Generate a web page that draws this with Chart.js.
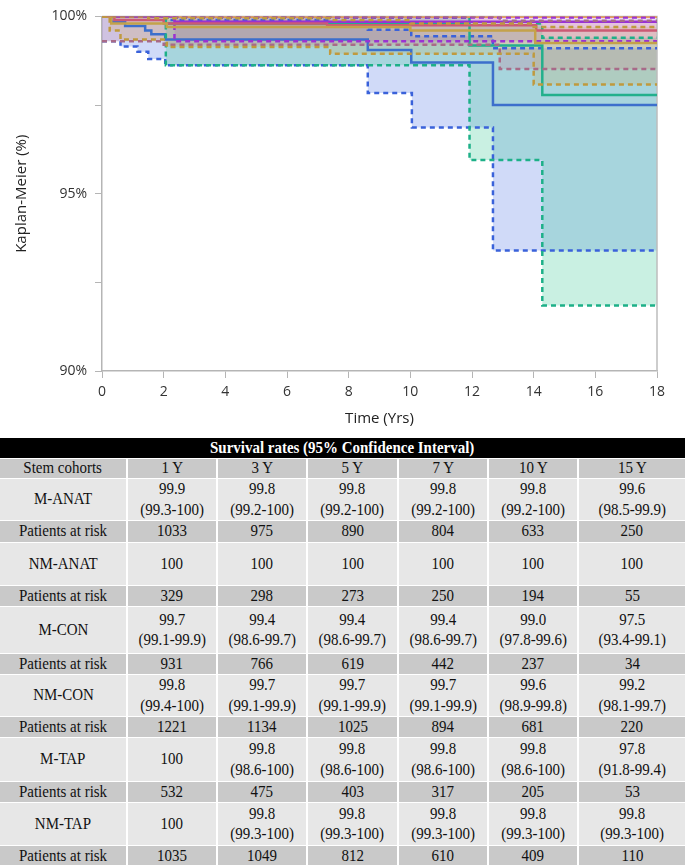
<!DOCTYPE html>
<html><head><meta charset="utf-8">
<script src="https://cdn.jsdelivr.net/npm/chart.js@4.4.1/dist/chart.umd.min.js"></script>
<style>
html,body{margin:0;padding:0;background:#fff;width:685px;height:865px;overflow:hidden}
#chartBox{position:absolute;left:0;top:0;width:685px;height:432px}
#tbl{position:absolute;left:0;top:438px;width:685px;display:grid;
 grid-template-columns:126px 88px 88px 89px 88px 88px 1fr;
 grid-template-rows:20px 19px 41px 21px 42px 20px 46px 20px 41px 20px 43px 20px 42px 20px;
 column-gap:2px;row-gap:1px;font-family:"Liberation Serif","Times New Roman",serif;font-size:17px;color:#111;background:#fff}
.c{display:flex;align-items:center;justify-content:center;text-align:center;line-height:20.5px;white-space:nowrap}
.c span{display:inline-block;transform:scaleX(0.88);transform-origin:center}
.hd{grid-column:1 / -1;background:#000;color:#fff;font-weight:bold}
.dk{background:#C9C9C9}
.lt{background:#E7E7E7}
</style></head>
<body>
<div id="chartBox"><canvas id="km"></canvas></div>
<div id="tbl"></div>
<script>
// ---------- plot data: [time (yrs), survival %] step points ----------
const mConEst  = [[0,100],[0.3,99.85],[0.75,99.73],[1.4,99.6],[1.6,99.5],[2.05,99.35],[8.62,99.05],[10.03,98.7],[12.68,97.5],[18,97.5]];
const mConLow  = [[0,99.3],[0.6,99.15],[1.15,99.0],[1.5,98.8],[2.05,98.62],[8.62,97.84],[10.05,96.87],[12.68,93.4],[18,93.4]];
const mConHigh = [[0,100],[2.05,99.9],[7.4,99.76],[8.62,99.62],[10.03,99.44],[12.68,99.1],[18,99.1]];

const mTapEst  = [[0,100],[2.07,99.8],[11.92,99.18],[14.28,97.78],[18,97.78]];
const mTapLow  = [[0,100],[2.07,98.62],[11.92,95.95],[14.28,91.85],[18,91.85]];
const mTapHigh = [[0,100],[2.07,99.97],[11.92,99.8],[14.28,99.4],[18,99.4]];

const nmConEst  = [[0,100],[0.3,99.8],[2.1,99.7],[10.0,99.6],[14.05,99.25],[18,99.25]];
const nmConLow  = [[0,100],[0.25,99.6],[0.6,99.35],[2.1,99.14],[7.4,98.95],[14.0,98.08],[18,98.08]];
const nmConHigh = [[0,100],[1.5,99.95],[7.4,99.9],[10.0,99.8],[14.0,99.7],[18,99.7]];

const mAnatEst  = [[0,100],[0.4,99.9],[2.0,99.8],[7.3,99.75],[14.08,99.6],[18,99.6]];
const mAnatLow  = [[0,99.3],[2.0,99.2],[12.9,98.52],[18,98.52]];
const mAnatHigh = [[0,100],[12.9,99.88],[18,99.88]];

const nmTapEst  = [[0,100],[2.35,99.85],[18,99.85]];
const nmTapLow  = [[0,100],[2.35,99.3],[18,99.3]];
const nmTapHigh = [[0,100],[2.35,99.97],[18,99.97]];

const nmAnatEst = [[0,100],[18,100]];

// ---------- table data ----------
const headerTitle = "Survival rates (95% Confidence Interval)";
const yearLabels = ["1 Y","3 Y","5 Y","7 Y","10 Y","15 Y"];
const cohortNames = ["M-ANAT","NM-ANAT","M-CON","NM-CON","M-TAP","NM-TAP"];
const rateMANAT  = ["99.9","99.8","99.8","99.8","99.8","99.6"];
const ciMANAT    = ["(99.3-100)","(99.2-100)","(99.2-100)","(99.2-100)","(99.2-100)","(98.5-99.9)"];
const riskMANAT  = ["1033","975","890","804","633","250"];
const rateNMANAT = ["100","100","100","100","100","100"];
const ciNMANAT   = ["","","","","",""];
const riskNMANAT = ["329","298","273","250","194","55"];
const rateMCON   = ["99.7","99.4","99.4","99.4","99.0","97.5"];
const ciMCON     = ["(99.1-99.9)","(98.6-99.7)","(98.6-99.7)","(98.6-99.7)","(97.8-99.6)","(93.4-99.1)"];
const riskMCON   = ["931","766","619","442","237","34"];
const rateNMCON  = ["99.8","99.7","99.7","99.7","99.6","99.2"];
const ciNMCON    = ["(99.4-100)","(99.1-99.9)","(99.1-99.9)","(99.1-99.9)","(98.9-99.8)","(98.1-99.7)"];
const riskNMCON  = ["1221","1134","1025","894","681","220"];
const rateMTAP   = ["100","99.8","99.8","99.8","99.8","97.8"];
const ciMTAP     = ["","(98.6-100)","(98.6-100)","(98.6-100)","(98.6-100)","(91.8-99.4)"];
const riskMTAP   = ["532","475","403","317","205","53"];
const rateNMTAP  = ["100","99.8","99.8","99.8","99.8","99.8"];
const ciNMTAP    = ["","(99.3-100)","(99.3-100)","(99.3-100)","(99.3-100)","(99.3-100)"];
const riskNMTAP  = ["1035","1049","812","610","409","110"];

// ---------- build table ----------
(function(){
  const t = document.getElementById('tbl');
  const add = (txt, cls) => { const d = document.createElement('div'); d.className = 'c ' + cls; d.innerHTML = '<span>' + txt + '</span>'; t.appendChild(d); };
  add(headerTitle, 'hd');
  add('Stem cohorts', 'dk'); yearLabels.forEach(y => add(y, 'dk'));
  const rows = [[rateMANAT,ciMANAT,riskMANAT],[rateNMANAT,ciNMANAT,riskNMANAT],[rateMCON,ciMCON,riskMCON],
                [rateNMCON,ciNMCON,riskNMCON],[rateMTAP,ciMTAP,riskMTAP],[rateNMTAP,ciNMTAP,riskNMTAP]];
  rows.forEach((r, i) => {
    add(cohortNames[i], 'lt');
    r[0].forEach((v, j) => add(r[1][j] ? v + '<br>' + r[1][j] : v, 'lt'));
    add('Patients at risk', 'dk');
    r[2].forEach(v => add(v, 'dk'));
  });
})();

// ---------- build chart ----------
const P = pts => pts.map(([x, y]) => ({x, y}));
const styles = [
  {est: nmConEst,  low: nmConLow,  high: nmConHigh,  line: '#C4A24A', ci: '#C09A3E', fill: 'rgba(205,175,90,0.22)'},
  {est: mAnatEst,  low: mAnatLow,  high: mAnatHigh,  line: '#CC5A74', ci: '#A86A88', fill: 'rgba(205,110,140,0.22)'},
  {est: nmTapEst,  low: nmTapLow,  high: nmTapHigh,  line: '#9A32D2', ci: '#9A32D2', fill: 'rgba(150,70,205,0.2)'},
  {est: nmAnatEst, line: '#E8862C'},
  {est: mTapEst,   low: mTapLow,   high: mTapHigh,   line: '#22B08C', ci: '#1DB088', fill: 'rgba(60,200,150,0.28)'},
  {est: mConEst,   low: mConLow,   high: mConHigh,   line: '#3C6FCC', ci: '#3A62DA', fill: 'rgba(120,150,235,0.35)'}
];
const datasets = [];
styles.forEach(s => {
  if (s.low) {
    const li = datasets.length;
    datasets.push({data: P(s.low), borderColor: s.ci, borderWidth: 2.5, borderDash: [5, 4], fill: false, stepped: 'before', pointRadius: 0});
    datasets.push({data: P(s.high), borderColor: s.ci, borderWidth: 2.5, borderDash: [5, 4], fill: li, backgroundColor: s.fill, stepped: 'before', pointRadius: 0});
  }
  datasets.push({data: P(s.est), borderColor: s.line, borderWidth: 2.5, fill: false, stepped: 'before', pointRadius: 0});
});

const frame = {id: 'frame', beforeDatasetsDraw(c) {
  const {ctx, chartArea: a} = c; ctx.save(); ctx.strokeStyle = '#BDBDBD'; ctx.lineWidth = 1.5;
  ctx.beginPath(); ctx.moveTo(a.left, a.top); ctx.lineTo(a.right, a.top); ctx.lineTo(a.right, a.bottom); ctx.stroke(); ctx.restore();
}};

const tickFont = {family: "'Open Sans', 'DejaVu Sans', sans-serif", size: 14};
new Chart(document.getElementById('km'), {
  type: 'line',
  data: {datasets},
  plugins: [frame],
  options: {
    responsive: true, maintainAspectRatio: false, animation: false,
    layout: {padding: {left: 0, right: 28, top: 8, bottom: 0}},
    plugins: {legend: {display: false}, tooltip: {enabled: false}, filler: {drawTime: 'beforeDatasetsDraw'}},
    elements: {line: {tension: 0}},
    scales: {
      x: {type: 'linear', min: 0, max: 18,
          ticks: {stepSize: 2, color: '#333', font: tickFont, padding: 6, maxRotation: 0},
          grid: {drawOnChartArea: false, drawTicks: true, tickLength: 7, color: '#B5B5B5'},
          border: {display: true, color: '#B5B5B5', width: 1.5},
          title: {display: true, text: 'Time (Yrs)', color: '#222', font: {family: "'Open Sans', sans-serif", size: 15}, padding: {top: 2, bottom: 4}},
          afterFit: s => { s.height = 61; }},
      y: {min: 90, max: 100,
          ticks: {stepSize: 2.5, color: '#333', font: tickFont, padding: 8, callback: v => (v % 5 === 0 ? v + '%' : '')},
          grid: {drawOnChartArea: false, drawTicks: true, tickLength: 7, color: '#B5B5B5'},
          border: {display: true, color: '#B5B5B5', width: 1.5},
          title: {display: true, text: 'Kaplan-Meier (%)', color: '#222', font: {family: "'Open Sans', sans-serif", size: 15}, padding: {top: 13, bottom: 0}},
          afterFit: s => { s.width = 102; }}
    }
  }
});
</script>
</body></html>
